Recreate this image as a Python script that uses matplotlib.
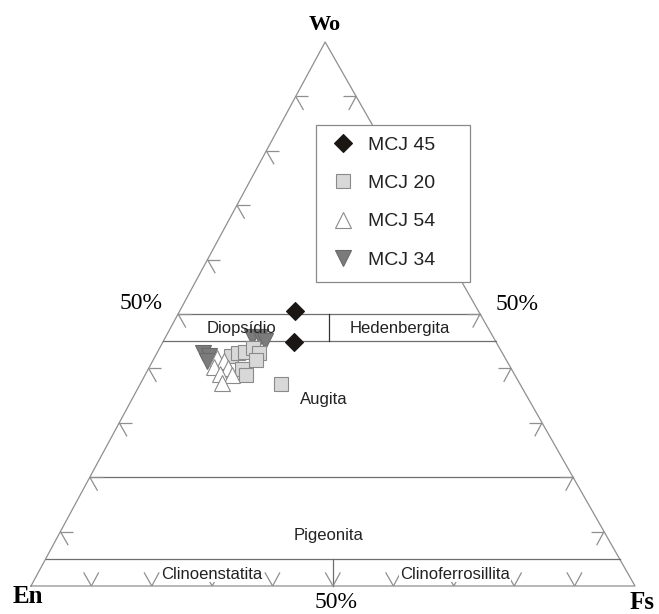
import matplotlib
matplotlib.use('Agg')
import matplotlib.pyplot as plt
import numpy as np
from matplotlib.collections import LineCollection
from matplotlib.patches import Rectangle

# Pyroxene compositions (mol %): Wo and Fs, En = 100 - Wo - Fs
mcj45_wo = [50.6, 44.8]
mcj45_fs = [19.1, 21.7]

mcj20_wo = [42.2, 42.8, 43.1, 43.7, 42.9, 41.5, 39.8, 38.7, 37.1]
mcj20_fs = [12.5, 13.4, 14.4, 15.4, 16.8, 17.0, 15.5, 16.8, 23.4]

mcj54_wo = [42.0, 41.3, 40.2, 40.0, 38.9, 38.7, 37.4]
mcj54_fs = [10.3, 11.9, 10.8, 13.1, 12.4, 14.4, 13.4]

mcj34_wo = [42.8, 42.2, 41.3, 45.7, 45.7, 45.1]
mcj34_fs = [7.7, 8.9, 9.1, 14.4, 15.6, 16.7]

# field boundaries (Wo %) and edge ticks (%)
field_lines = [50, 45, 20, 5]
edge_ticks = [10, 20, 30, 40, 50, 60, 70, 80, 90]

APEX = 0.487  # horizontal position of the Wo corner


def to_xy(wo, fs):
    wo = np.asarray(wo) / 100.0
    fs = np.asarray(fs) / 100.0
    return fs + APEX * wo, wo


fig = plt.figure(figsize=(6.59, 6.14), dpi=100)
ax = fig.add_axes([0, 0, 1, 1])
ax.set_xlim(-0.0513, 1.0397)
ax.set_ylim(-0.0515, 1.0772)
ax.axis('off')

edge_c = '#8f8f8f'
line_c = '#6e6e6e'

# triangle outline
ax.plot([0, 1, APEX, 0], [0, 0, 1, 0], color=edge_c, lw=0.9, zorder=1)

# horizontal field boundaries
for w in field_lines:
    t = w / 100.0
    ax.plot([APEX * t, 1 - (1 - APEX) * t], [t, t], color=line_c, lw=0.9, zorder=1)

# Di / Hd and Cen / Cfs dividers
xd = to_xy(50, 25)[0]
ax.plot([xd, xd], [0.45, 0.50], color='#333333', lw=0.9, zorder=1)
ax.plot([0.5, 0.5], [0.0, 0.05], color=line_c, lw=0.9, zorder=1)

# arrow-shaped ticks along the three edges
arm = 0.025
shaft = 0.021
left_dir = np.array([APEX, 1.0])
right_dir = np.array([1 - APEX, -1.0])
segs = []
for v in edge_ticks:
    t = v / 100.0
    p = np.array([APEX * t, t])
    segs.append([p, p + [shaft, 0]])
    segs.append([p, p + arm * right_dir])
    q = np.array([1 - (1 - APEX) * t, t])
    segs.append([q, q + [-shaft, 0]])
    segs.append([q, q - arm * left_dir])
    b = np.array([t, 0.0])
    segs.append([b, b + arm * left_dir])
    segs.append([b, b - arm * right_dir])
ax.add_collection(LineCollection(segs, colors=edge_c, linewidths=0.9, zorder=1))

# data points
x, y = to_xy(mcj34_wo, mcj34_fs)
ax.plot(x, y, ls='none', marker='v', ms=12, mfc='#7b7b7b', mec='#6a6a6a',
        mew=0.8, label='MCJ 34', zorder=3)
x, y = to_xy(mcj20_wo, mcj20_fs)
ax.plot(x, y, ls='none', marker='s', ms=10, mfc='#d8d8d8', mec='#8a8a8a',
        mew=0.8, label='MCJ 20', zorder=4)
x, y = to_xy(mcj54_wo, mcj54_fs)
ax.plot(x, y, ls='none', marker='^', ms=12, mfc='white', mec='#8a8a8a',
        mew=0.8, label='MCJ 54', zorder=5)
x, y = to_xy(mcj45_wo, mcj45_fs)
ax.plot(x, y, ls='none', marker='D', ms=9.5, mfc='#1a1614', mec='#1a1614',
        mew=0.8, label='MCJ 45', zorder=6)

# corner and scale labels
serif = 'Liberation Serif'
ax.text(0.487, 1.031, 'Wo', family=serif, weight='bold', fontsize=16,
        ha='center', va='center')
ax.text(-0.005, -0.020, 'En', family=serif, weight='bold', fontsize=18,
        ha='center', va='center')
ax.text(1.012, -0.030, 'Fs', family=serif, weight='bold', fontsize=18,
        ha='center', va='center')
ax.text(0.182, 0.520, '50%', family=serif, fontsize=17, ha='center', va='center')
ax.text(0.805, 0.517, '50%', family=serif, fontsize=17, ha='center', va='center')
ax.text(0.505, -0.031, '50%', family=serif, fontsize=17, ha='center', va='center')

# field names
sans = 'Liberation Sans'
fields = [('Diopsídio', 0.348, 0.474), ('Hedenbergita', 0.611, 0.474),
          ('Augita', 0.485, 0.342), ('Pigeonita', 0.492, 0.092)]
for name, fx, fy in fields:
    ax.text(fx, fy, name, family=sans, fontsize=12, color='#222222',
            ha='center', va='center', zorder=7)
for name, fx in [('Clinoenstatita', 0.300), ('Clinoferrosillita', 0.702)]:
    ax.text(fx, 0.022, name, family=sans, fontsize=12, color='#222222',
            ha='center', va='center', zorder=7,
            bbox=dict(fc='white', ec='none', pad=0.5))

# legend: white box with a grey border, entries placed inside it
ax.add_patch(Rectangle((316 / 659, 1 - 282 / 614), 154 / 659, 157 / 614,
                       transform=ax.transAxes, fc='white', ec='#8a8a8a',
                       lw=0.9, zorder=8))
handles, labels = ax.get_legend_handles_labels()
order = [3, 1, 2, 0]
leg = ax.legend([handles[i] for i in order], [labels[i] for i in order],
                loc='upper left', bbox_to_anchor=(330 / 659, 1 - 136 / 614),
                borderaxespad=0, borderpad=0, frameon=False,
                labelspacing=1.07, handletextpad=0.67, handlelength=1.3,
                prop={'family': sans, 'size': 14})
leg.set_zorder(9)
for t in leg.get_texts():
    t.set_color('#222222')

fig.savefig('out.png', dpi=100)
